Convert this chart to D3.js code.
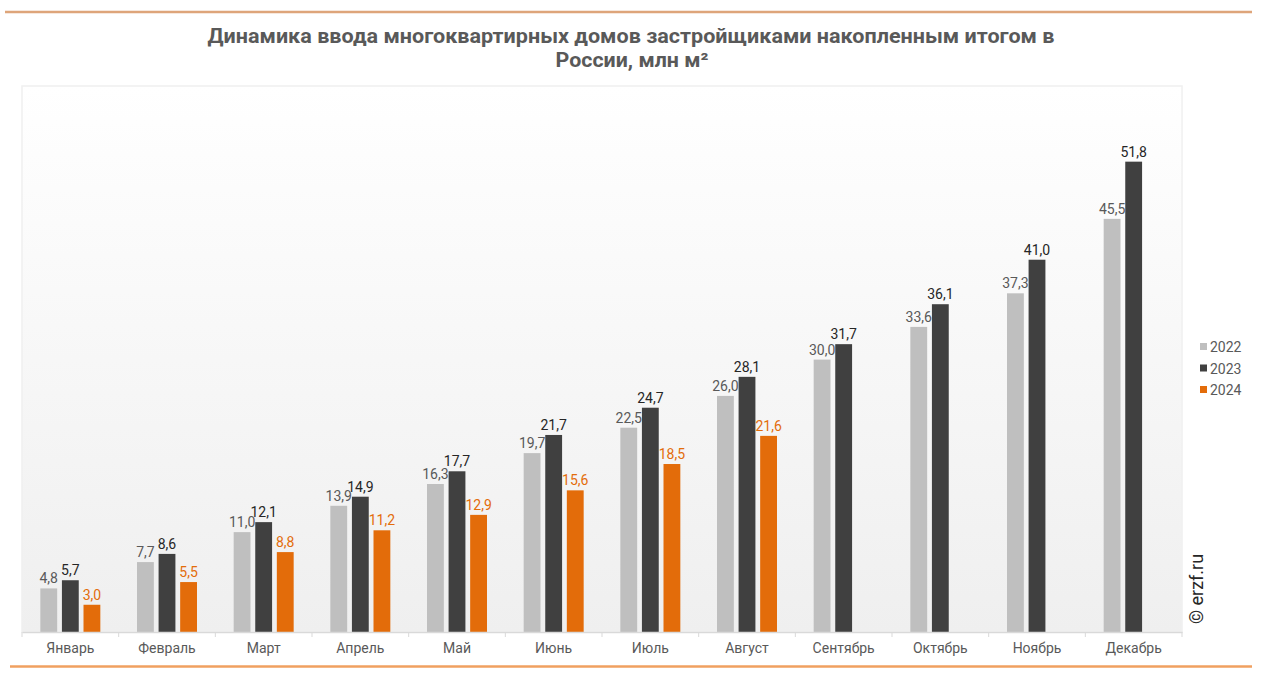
<!DOCTYPE html>
<html><head><meta charset="utf-8">
<script src="https://cdn.jsdelivr.net/npm/d3@7"></script>
<style>body{margin:0;background:#fff;}svg{display:block;font-family:Roboto,"Noto Sans",sans-serif;}</style>
</head><body>
<svg id="c" width="1280" height="681"></svg>
<script>
const categories = ["Январь","Февраль","Март","Апрель","Май","Июнь","Июль","Август","Сентябрь","Октябрь","Ноябрь","Декабрь"];
const seriesNames = ["2022","2023","2024"];
const values2022 = [4.8,7.7,11.0,13.9,16.3,19.7,22.5,26.0,30.0,33.6,37.3,45.5];
const values2023 = [5.7,8.6,12.1,14.9,17.7,21.7,24.7,28.1,31.7,36.1,41.0,51.8];
const values2024 = [3.0,5.5,8.8,11.2,12.9,15.6,18.5,21.6,null,null,null,null];
const titleLines = ["Динамика ввода многоквартирных домов застройщиками накопленным итогом в","России, млн м²"];

const barColors = ["#bfbfbf","#404040","#e36c0a"];
const labelColors = ["#595959","#262626","#e36c0a"];
const allSeries = [values2022, values2023, values2024];

const svg = d3.select("#c");
const defs = svg.append("defs");
const grad = defs.append("linearGradient").attr("id","bg").attr("x1",0).attr("y1",0).attr("x2",0).attr("y2",1);
grad.append("stop").attr("offset","0%").attr("stop-color","#ffffff");
grad.append("stop").attr("offset","100%").attr("stop-color","#efefef");

// decorative orange lines
svg.append("line").attr("x1",5).attr("x2",1252).attr("y1",12).attr("y2",12).attr("stroke","#dea57a").attr("stroke-width",2.5);
svg.append("line").attr("x1",10).attr("x2",1252).attr("y1",666.5).attr("y2",666.5).attr("stroke","#f0a060").attr("stroke-width",2.5);

// title
const tt = svg.append("g").attr("font-weight","bold").attr("fill","#595959").attr("font-size",20).attr("text-anchor","middle");
tt.append("text").attr("x",631).attr("y",43).attr("textLength",847).attr("lengthAdjust","spacingAndGlyphs").text(titleLines[0]);
tt.append("text").attr("x",632).attr("y",67).attr("textLength",153).attr("lengthAdjust","spacingAndGlyphs").text(titleLines[1]);

const pLeft = 22, pRight = 1182, pTop = 86, pBottom = 632;
svg.append("rect").attr("x",pLeft).attr("y",pTop).attr("width",pRight-pLeft).attr("height",pBottom-pTop)
  .attr("fill","url(#bg)").attr("stroke","#f0f0f0").attr("stroke-width",1.5);

const x = d3.scaleBand().domain(categories).range([pLeft,pRight]).paddingInner(0).paddingOuter(0);
const y = d3.scaleLinear().domain([0,60]).range([pBottom, pBottom - 60*9.08]);
const sub = d3.scaleBand().domain(seriesNames).range([-30,30]).paddingInner(0.22).paddingOuter(0);

const gBars = svg.append("g");
allSeries.forEach((vals,si)=>{
  const name = seriesNames[si];
  const data = categories.map((c,i)=>({c, v: vals[i]})).filter(d=>d.v!=null);
  gBars.selectAll(null).data(data).join("rect")
    .attr("x", d=> x(d.c)+x.bandwidth()/2 + sub(name))
    .attr("width", sub.bandwidth())
    .attr("y", d=> y(d.v))
    .attr("height", d=> y(0)-y(d.v))
    .attr("fill", barColors[si]);
  gBars.selectAll(null).data(data).join("text")
    .attr("x", d=> x(d.c)+x.bandwidth()/2 + sub(name) + sub.bandwidth()/2)
    .attr("y", d=> y(d.v)-5)
    .attr("text-anchor","middle").attr("font-size",14).attr("font-weight",400)
    .attr("fill", labelColors[si])
    .text(d=> d3.format(".1f")(d.v).replace(".",","));
});

// x axis
const xAxis = d3.axisBottom(x).tickSize(0).tickPadding(11);
const ga = svg.append("g").attr("transform",`translate(0,${pBottom})`).call(xAxis);
ga.select(".domain").attr("stroke","#d9d9d9").attr("stroke-width",1.5);
ga.selectAll(".tick text").attr("font-size",14).attr("fill","#595959").attr("font-family","Roboto");
// category separators
svg.append("g").selectAll("line").data(d3.range(categories.length+1)).join("line")
  .attr("x1", i=> pLeft + i*x.step()).attr("x2", i=> pLeft + i*x.step())
  .attr("y1", pBottom).attr("y2", pBottom+5).attr("stroke","#d9d9d9").attr("stroke-width",1);

// legend
const lg = svg.append("g").attr("transform","translate(1200,347)");
seriesNames.forEach((n,i)=>{
  const g = lg.append("g").attr("transform",`translate(0,${i*21.5})`);
  g.append("rect").attr("x",0).attr("y",-4).attr("width",7).attr("height",7).attr("fill",barColors[i]);
  g.append("text").attr("x",10).attr("y",5).attr("font-size",14).attr("fill","#595959").text(n);
});

// watermark
svg.append("text").attr("transform","translate(1203,589) rotate(-90)").attr("text-anchor","middle")
  .attr("font-size",18).attr("fill","#262626").text("© erzf.ru");
</script>
</body></html>
